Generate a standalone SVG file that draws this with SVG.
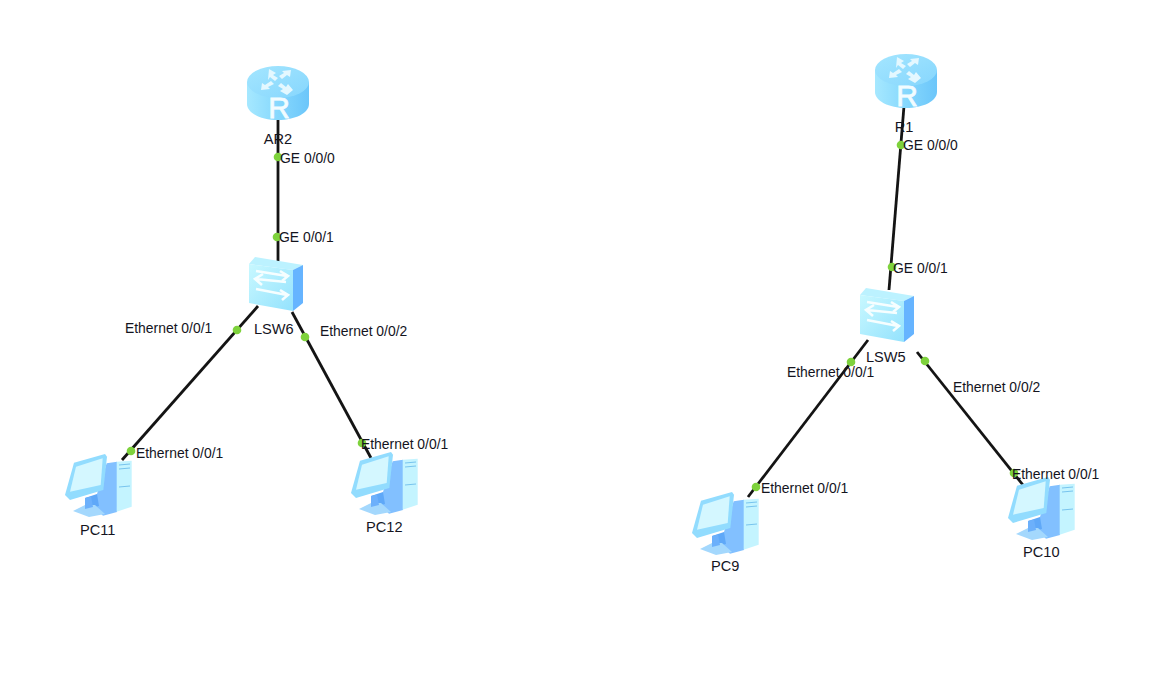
<svg xmlns="http://www.w3.org/2000/svg" width="1160" height="693" viewBox="0 0 1160 693">
<style>
text{font-family:"Liberation Sans",Arial,sans-serif;font-size:13.9px;fill:#14141e}
.n{font-size:14.6px}
.l{stroke:#141414;stroke-width:2.8;fill:none}
.d{fill:#7ed23c}
.a{fill:none;stroke:#f6feff;stroke-width:2.6}
</style>
<defs>
<linearGradient id="rb" x1="0" x2="1" y1="0" y2="0"><stop offset="0" stop-color="#a6e8ff"/><stop offset=".5" stop-color="#86d8fd"/><stop offset="1" stop-color="#6cc6fa"/></linearGradient>
<linearGradient id="rt" x1="0" x2="1" y1="0" y2="1"><stop offset="0" stop-color="#a4e6ff"/><stop offset="1" stop-color="#86d6fd"/></linearGradient>
<linearGradient id="sf" x1="0" x2="1" y1="0" y2="1"><stop offset="0" stop-color="#c8f8ff"/><stop offset="1" stop-color="#94e2fd"/></linearGradient>
<g id="router">
<path d="M0 16V38C0 47 14 54 31 54S62 47 62 38V16Z" fill="url(#rb)"/>
<ellipse cx="31" cy="16" rx="31" ry="16" fill="url(#rt)"/>
<path d="M22 3L29 7L26 9L31 12L28 15L23 11L21 14ZM44 4L43 11L40 9L35 13L32 10L37 7L35 5ZM14 24L15 17L18 19L24 15L27 18L21 21L23 23ZM40 29L33 25L36 23L31 20L34 17L39 21L41 18L46 24Z" fill="#e4f8ff"/>
<text x="32" y="52" text-anchor="middle" style="font-size:30px;fill:#f2fcff;stroke:#f2fcff;stroke-width:.8">R</text>
</g>
<g id="switch">
<path d="M0 7L6 0L54 8L44 13Z" fill="#bcf2ff"/>
<path d="M44 13L54 8V46L44 54Z" fill="#66b4ff"/>
<path d="M0 7L44 13V54L0 46Z" fill="url(#sf)"/>
<path class="a" d="M7 14L38 19M31 14L39 19L33 24"/>
<path class="a" d="M37 25L7 22M14 17L6 22L13 28"/>
<path class="a" d="M7 32L38 38M31 33L39 38L33 43"/>
</g>
<g id="pc">
<path d="M41.700 9.300L52 7.700V58L38 61.700L28 52.700Z" fill="#82c0ff"/>
<path d="M51.700 7.700L66.700 6.700V52.700L51.700 57.700Z" fill="#c4f4ff"/>
<path d="M54 11L65 10M54 15L65 14M54 33L65 32" stroke="#78c4ee" stroke-width="1"/>
<path d="M9 8.700L40 0L42 2.700L38.300 36L5 46L0 41Z" fill="#92dcfe"/>
<path d="M11 12.700L37.700 4.300L35.700 31L5 37.700Z" fill="#d4f7ff"/>
<path d="M20 44L32 40L34 52L22 55Z" fill="#5fa8f8"/>
<path d="M8 57L20 51L30 51L40 60L24 63Z" fill="#a4d8fd"/>
<path d="M20 44L26 42.500L28 53L20 55Z" fill="#6cb0fb"/>
</g>
</defs>
<g id="connectors">
<path class="l" d="M278 118V262"/>
<path class="l" d="M258 306L122 460"/>
<path class="l" d="M292 312L371 458"/>
<path class="l" d="M904 106L889 290"/>
<path class="l" d="M868 340L748 497"/>
<path class="l" d="M917 352L1023 485"/>
<g class="d">
<circle cx="278" cy="157" r="4.300"/><circle cx="277" cy="237" r="4.300"/>
<circle cx="237" cy="330" r="4.300"/><circle cx="305" cy="337" r="4.300"/>
<circle cx="131" cy="451" r="4.300"/><circle cx="362" cy="443" r="4.300"/>
<circle cx="901" cy="145" r="4.300"/><circle cx="892" cy="267" r="4.300"/>
<circle cx="851" cy="362" r="4.300"/><circle cx="925" cy="361" r="4.300"/>
<circle cx="756" cy="487" r="4.300"/><circle cx="1014" cy="473" r="4.300"/>
</g>
</g>
<g id="AR2"><use href="#router" x="247" y="66"/><text class="n" x="278" y="144" text-anchor="middle">AR2</text></g>
<g id="LSW6"><use href="#switch" x="249" y="257"/><text class="n" x="254" y="334">LSW6</text></g>
<g id="PC11"><use href="#pc" x="65" y="454"/><text class="n" x="80" y="535">PC11</text></g>
<g id="PC12"><use href="#pc" x="351" y="452"/><text class="n" x="366" y="532">PC12</text></g>
<g id="R1"><use href="#router" x="875" y="54"/><text class="n" x="904" y="132" text-anchor="middle">R1</text></g>
<g id="LSW5"><use href="#switch" x="860" y="288"/><text class="n" x="866" y="362">LSW5</text></g>
<g id="PC9"><use href="#pc" x="692" y="492"/><text class="n" x="711" y="571">PC9</text></g>
<g id="PC10"><use href="#pc" x="1008" y="477"/><text class="n" x="1023" y="557">PC10</text></g>
<g id="labels">
<text x="280" y="163">GE 0/0/0</text>
<text x="279" y="242">GE 0/0/1</text>
<text x="125" y="333">Ethernet 0/0/1</text>
<text x="320" y="336">Ethernet 0/0/2</text>
<text x="136" y="458">Ethernet 0/0/1</text>
<text x="361" y="449">Ethernet 0/0/1</text>
<text x="903" y="150">GE 0/0/0</text>
<text x="893" y="273">GE 0/0/1</text>
<text x="787" y="377">Ethernet 0/0/1</text>
<text x="953" y="392">Ethernet 0/0/2</text>
<text x="761" y="493">Ethernet 0/0/1</text>
<text x="1012" y="479">Ethernet 0/0/1</text>
</g>
</svg>
